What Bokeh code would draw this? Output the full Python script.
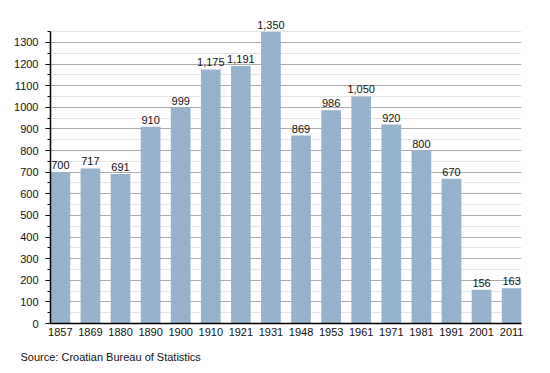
from bokeh.plotting import figure
from bokeh.models import ColumnDataSource, FixedTicker, LabelSet, Title, CustomJSTickFormatter
from bokeh.core.properties import value
from bokeh.embed import file_html
from bokeh.resources import INLINE

years = ["1857", "1869", "1880", "1890", "1900", "1910", "1921", "1931",
         "1948", "1953", "1961", "1971", "1981", "1991", "2001", "2011"]
population = [700, 717, 691, 910, 999, 1175, 1191, 1350,
              869, 986, 1050, 920, 800, 670, 156, 163]
y_ticks = list(range(0, 1301, 100))
source_text = "Source: Croatian Bureau of Statistics"

FONT = "Liberation Sans"
BAR_W = 0.655
n = len(years)
xs = list(range(n))
labels = [f"{v:,}" for v in population]

AXIS_TOP = 1350          # where the drawn axis ends
Y_END = 1420             # extra headroom so top labels are not clipped
PX_PER_UNIT = 292 / 1350
FRAME_W = 471
FRAME_H = round(Y_END * PX_PER_UNIT)
W, H = 540, 373
LEFT = 50
FRAME_BOTTOM = 323
TOP = FRAME_BOTTOM - FRAME_H
RIGHT = W - LEFT - FRAME_W
BOTTOM = H - FRAME_BOTTOM

x_start, x_end = -BAR_W / 2, n - 1 + BAR_W / 2

p = figure(width=W, height=H, output_backend="svg", toolbar_location=None,
           x_range=(x_start, x_end), y_range=(0, Y_END),
           min_border_left=LEFT, min_border_right=RIGHT,
           min_border_top=TOP, min_border_bottom=BOTTOM,
           background_fill_color="white", border_fill_color="white",
           outline_line_color=None)

src = ColumnDataSource(dict(x=xs, top=population, label=labels))
p.vbar(x="x", top="top", width=BAR_W, source=src,
       fill_color="#97b2cd", line_color=None)
p.add_layout(LabelSet(x="x", y="top", text="label", source=src,
                      text_font=value(FONT), text_font_size="11px", text_color="#111111",
                      text_align="center", text_baseline="alphabetic", y_offset=3))

# y axis
p.yaxis.bounds = (0, AXIS_TOP)
p.yaxis.ticker = FixedTicker(ticks=y_ticks, minor_ticks=[v + 50 for v in y_ticks])
p.yaxis.major_label_text_font = FONT
p.yaxis.major_label_text_font_size = "11px"
p.yaxis.major_label_text_color = "#111111"
p.yaxis.axis_line_color = "black"
p.yaxis.axis_line_width = 1.5
p.yaxis.major_tick_line_color = "black"
p.yaxis.major_tick_out = 5
p.yaxis.major_tick_in = 0
p.yaxis.minor_tick_line_color = "black"
p.yaxis.minor_tick_out = 3
p.yaxis.minor_tick_in = 0
p.yaxis.major_label_standoff = 7

# x axis
p.xaxis.ticker = FixedTicker(ticks=xs)
p.xaxis.formatter = CustomJSTickFormatter(args=dict(names=years),
                                          code="return names[Math.round(tick)];")
p.xaxis.major_label_text_font = FONT
p.xaxis.major_label_text_font_size = "11px"
p.xaxis.major_label_text_color = "#111111"
p.xaxis.axis_line_color = "black"
p.xaxis.axis_line_width = 1.5
p.xaxis.major_tick_line_color = None
p.xaxis.minor_tick_line_color = None
p.xaxis.major_tick_out = 0
p.xaxis.major_label_standoff = 4

p.xgrid.grid_line_color = None
p.ygrid.grid_line_color = "#aaaaaa"
p.ygrid.grid_line_width = 1
p.ygrid.minor_grid_line_color = "#e4e4e4"
p.ygrid.bounds = (0, AXIS_TOP)
p.ygrid.level = "underlay"

p.add_layout(Title(text=source_text, align="left", offset=-30,
                   text_font=FONT, text_font_size="11px", text_color="#111111",
                   text_font_style="normal", standoff=21), "below")

open("out.html", "w").write(file_html(p, INLINE))
